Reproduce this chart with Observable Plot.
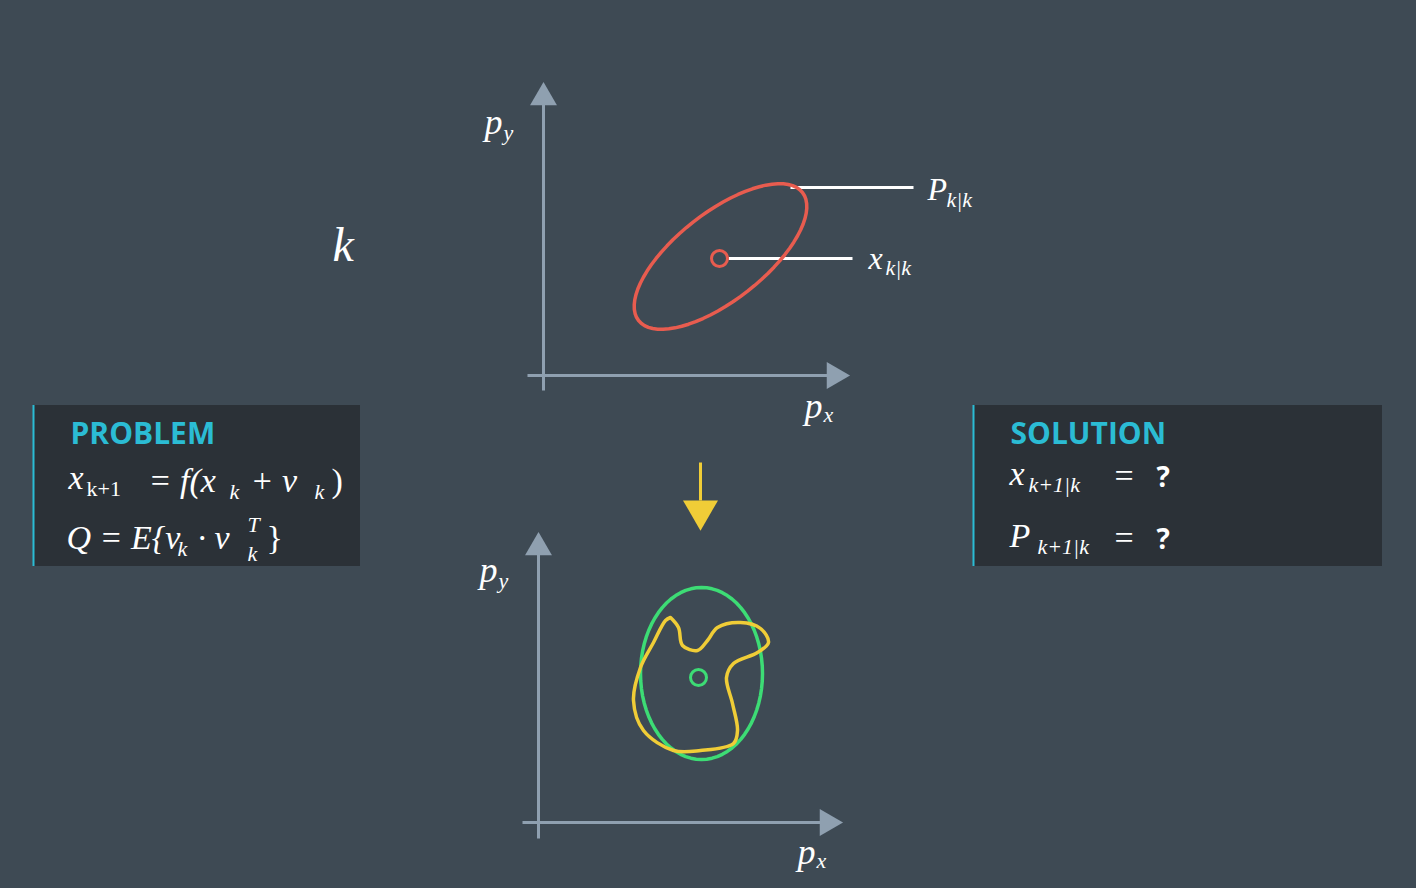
<!DOCTYPE html>
<html><head><meta charset="utf-8">
<script src="https://cdn.jsdelivr.net/npm/d3@7"></script>
<script src="https://cdn.jsdelivr.net/npm/@observablehq/plot@0.6"></script>
<style>
body{margin:0;background:#3e4a54;}
#chart svg{display:block}
.m text, .s text{font-family:'Liberation Serif','DejaVu Serif',serif !important;}
.m text{font-style:italic;}
.h text, .b text{font-family:'Open Sans',sans-serif !important;font-weight:bold;}
</style></head><body><div id="chart"></div>
<script>
// axis shafts: [x1, y1, x2, y2]
const axisLines = [[543, 390, 543, 100], [527, 375, 832, 375], [538, 838, 538, 550], [522, 822, 825, 822]];
// arrow heads: [x, y, rotate]
const axisHeads = [[543, 97, 0], [834, 375, 90], [538, 547, 0], [827, 822, 90]];
// ellipses: [cx, cy, rx, ry, angle, colour]
const ellipses = [[720, 256, 104, 44, -38, "#e85c4f"], [701, 673, 61, 86, 0, "#3ddc75"]];
// centre circles: [x, y, colour]
const centres = [[719, 258, "#e85c4f"], [698, 677, "#3ddc75"]];
// leader lines
const leaders = [[790, 187, 913, 187], [728, 258, 852, 258]];
// yellow blob outline
const blobX = [670, 678, 682, 697, 707, 717, 740, 760, 768, 757, 733, 726, 732, 737, 733, 700, 673, 643, 633, 640, 653, 665, 670];
const blobY = [617, 627, 645, 650, 640, 627, 622, 628, 642, 652, 663, 677, 703, 730, 743, 750, 750, 730, 700, 667, 642, 620, 617];
// boxes: [x1, y1, x2, y2]
const boxes = [[33, 405, 360, 566], [973, 405, 1382, 566]];
// text pieces: [text, x, y, size, kind]
const texts = [
  ["p", 484, 122, 36, "m"], ["y", 503, 132, 22, "m"],
  ["p", 804, 406, 36, "m"], ["x", 823, 414, 22, "m"],
  ["p", 479, 570, 36, "m"], ["y", 498, 580, 22, "m"],
  ["p", 797, 852, 36, "m"], ["x", 816, 860, 22, "m"],
  ["k", 332, 245, 48, "m"],
  ["P", 927, 189, 32, "m"], ["k|k", 946, 199, 22, "m"],
  ["x", 868, 258, 32, "m"], ["k|k", 885, 267, 22, "m"],
  ["PROBLEM", 70, 434, 30, "h"],
  ["x", 68, 478, 34, "m"], ["k+1", 86, 488, 22, "s"], ["= f(x", 148, 481, 34, "m"],
  ["k", 229, 491, 22, "m"], ["+ ν", 250, 481, 34, "m"], ["k", 314, 491, 22, "m"], [")", 331, 481, 34, "s"],
  ["Q = E{ν", 66, 538, 34, "m"], ["k", 177, 548, 22, "m"], ["· ν", 197, 538, 34, "m"],
  ["T", 247, 524, 22, "m"], ["k", 247, 553, 22, "m"], ["}", 266, 538, 34, "s"],
  ["SOLUTION", 1010, 434, 30, "h"],
  ["x", 1009, 474, 34, "m"], ["k+1|k", 1028, 484, 22, "m"], ["=", 1114, 476, 34, "s"], ["?", 1156, 478, 28, "b"],
  ["P", 1009, 536, 34, "m"], ["k+1|k", 1037, 546, 22, "m"], ["=", 1114, 538, 34, "s"], ["?", 1156, 540, 28, "b"]
];

function ellipsePts([cx, cy, rx, ry, a, c], i) {
  const r = a * Math.PI / 180;
  return d3.range(0, 73).map(k => {
    const t = k / 72 * 2 * Math.PI, ex = rx * Math.cos(t), ey = ry * Math.sin(t);
    return {x: cx + ex * Math.cos(r) - ey * Math.sin(r), y: cy + ex * Math.sin(r) + ey * Math.cos(r), c, i};
  });
}
const ellData = ellipses.flatMap(ellipsePts);
const blob = blobX.map((x, i) => ({x, y: blobY[i]}));
const seg = a => a.map(([x1, y1, x2, y2]) => ({x1, y1, x2, y2}));
const textOf = k => texts.filter(t => t[4] === k).map(([t, x, y, s]) => ({t, x, y, s}));

const chart = Plot.plot({
  width: 1416, height: 888, margin: 0,
  x: {domain: [0, 1416], axis: null},
  y: {domain: [888, 0], axis: null},
  style: {background: "#3e4a54"},
  marks: [
    Plot.rect(seg(boxes), {x1: "x1", y1: "y1", x2: "x2", y2: "y2", fill: "#2b3137"}),
    Plot.ruleX(seg(boxes), {x: "x1", y1: "y1", y2: "y2", stroke: "#2bbcd4", strokeWidth: 2}),
    Plot.link(seg(axisLines), {x1: "x1", y1: "y1", x2: "x2", y2: "y2", stroke: "#8fa0b0", strokeWidth: 3}),
    Plot.dot(axisHeads, {x: d => d[0], y: d => d[1], rotate: d => d[2], symbol: "triangle", r: 10, fill: "#8fa0b0"}),
    Plot.link(seg(leaders), {x1: "x1", y1: "y1", x2: "x2", y2: "y2", stroke: "white", strokeWidth: 3}),
    Plot.line(ellData, {x: "x", y: "y", z: "i", stroke: "c", strokeWidth: 3.5, curve: "linear"}),
    Plot.line(blob, {x: "x", y: "y", stroke: "#f0cd37", strokeWidth: 3.5, curve: "catmull-rom-closed"}),
    Plot.dot(centres, {x: d => d[0], y: d => d[1], stroke: d => d[2], r: 8, strokeWidth: 3, fill: "#3e4a54"}),
    Plot.link([{x1: 700, y1: 462, x2: 700, y2: 500}], {x1: "x1", y1: "y1", x2: "x2", y2: "y2", stroke: "#f0cd37", strokeWidth: 3}),
    Plot.dot([[700, 510]], {x: d => d[0], y: d => d[1], symbol: "triangle", rotate: 180, r: 13, fill: "#f0cd37"}),
    Plot.text(textOf("m"), {x: "x", y: "y", text: "t", fontSize: "s", fill: "white", textAnchor: "start", className: "m"}),
    Plot.text(textOf("s"), {x: "x", y: "y", text: "t", fontSize: "s", fill: "white", textAnchor: "start", className: "s"}),
    Plot.text(textOf("h"), {x: "x", y: "y", text: "t", fontSize: "s", fill: "#2bbcd4", textAnchor: "start", className: "h"}),
    Plot.text(textOf("b"), {x: "x", y: "y", text: "t", fontSize: "s", fill: "white", textAnchor: "start", className: "b"})
  ]
});
d3.select("#chart").append(() => chart);
</script></body></html>
